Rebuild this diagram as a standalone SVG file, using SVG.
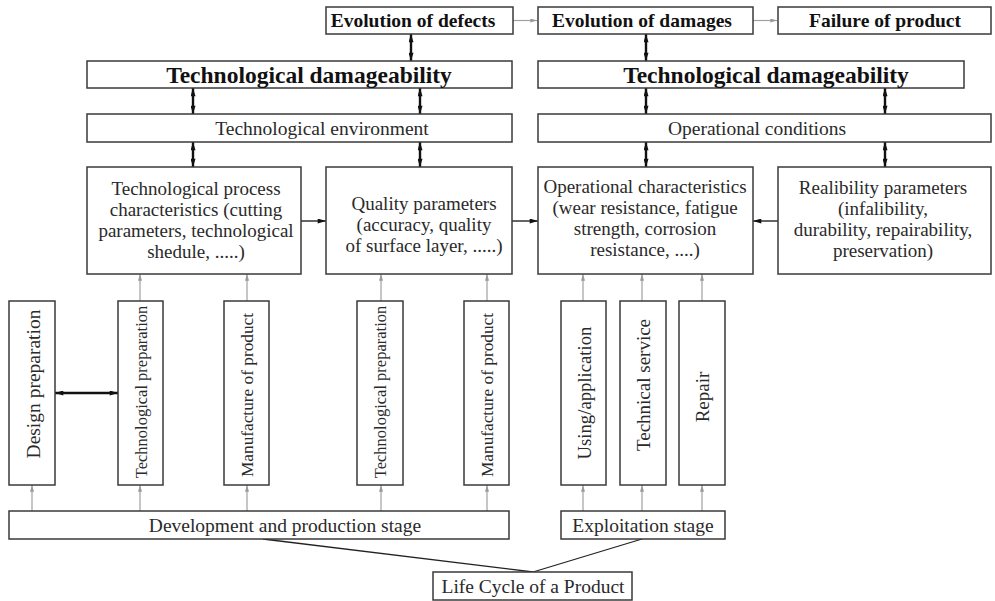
<svg xmlns="http://www.w3.org/2000/svg" width="995" height="601" viewBox="0 0 995 601">
<style>
.box{fill:#fff;stroke:#3a3a3a;stroke-width:1.5}
text{font-family:"Liberation Serif","Times New Roman",serif;fill:#2a2a2a}
.b{font-weight:bold;font-size:19.5px;fill:#111;text-anchor:middle}
.td{font-weight:bold;font-size:23.5px;fill:#111;text-anchor:middle}
.r{font-size:19.5px;text-anchor:middle}
.c{font-size:19px;text-anchor:middle}
.v{text-anchor:middle;dominant-baseline:central}
.dbl{stroke:#111;stroke-width:2.4;fill:none;marker-start:url(#hd);marker-end:url(#hd)}
.one{stroke:#111;stroke-width:1.3;fill:none;marker-end:url(#hs)}
.gr{stroke:#a0a0a0;stroke-width:1.2;fill:none;marker-end:url(#hg)}
.ln{stroke:#222;stroke-width:1.3;fill:none}
</style>
<defs>
<marker id="hd" viewBox="0 0 10 6" refX="10" refY="3" markerWidth="9" markerHeight="5" markerUnits="userSpaceOnUse" orient="auto-start-reverse"><path d="M0,0 L10,3 L0,6 z" fill="#111"/></marker>
<marker id="hs" viewBox="0 0 10 6" refX="10" refY="3" markerWidth="9" markerHeight="5" markerUnits="userSpaceOnUse" orient="auto"><path d="M0,0 L10,3 L0,6 z" fill="#111"/></marker>
<marker id="hg" viewBox="0 0 10 6" refX="10" refY="3" markerWidth="7" markerHeight="4" markerUnits="userSpaceOnUse" orient="auto"><path d="M0,0 L10,3 L0,6 z" fill="#999"/></marker>
</defs>

<g id="connectors">
<line class="gr" x1="513" y1="20.5" x2="537" y2="20.5"/>
<line class="gr" x1="753" y1="20.5" x2="777" y2="20.5"/>
<line class="dbl" x1="411" y1="34" x2="411" y2="61"/>
<line class="dbl" x1="646" y1="34" x2="646" y2="61"/>
<line class="dbl" x1="193" y1="88" x2="193" y2="114"/>
<line class="dbl" x1="420" y1="88" x2="420" y2="114"/>
<line class="dbl" x1="646" y1="88" x2="646" y2="114"/>
<line class="dbl" x1="885" y1="88" x2="885" y2="114"/>
<line class="dbl" x1="193" y1="142" x2="193" y2="167"/>
<line class="dbl" x1="420" y1="142" x2="420" y2="167"/>
<line class="dbl" x1="646" y1="142" x2="646" y2="167"/>
<line class="dbl" x1="885" y1="142" x2="885" y2="167"/>
<line class="one" x1="301" y1="221" x2="326" y2="221"/>
<line class="one" x1="512" y1="221" x2="538" y2="221"/>
<line class="one" x1="778" y1="221" x2="753" y2="221"/>
<line class="dbl" x1="55" y1="393" x2="118" y2="393"/>
<line class="gr" x1="140" y1="301" x2="140" y2="274"/>
<line class="gr" x1="247" y1="301" x2="247" y2="274"/>
<line class="gr" x1="381" y1="301" x2="381" y2="274"/>
<line class="gr" x1="487" y1="301" x2="487" y2="274"/>
<line class="gr" x1="583" y1="301" x2="583" y2="274"/>
<line class="gr" x1="642" y1="301" x2="642" y2="274"/>
<line class="gr" x1="702" y1="301" x2="702" y2="274"/>
<line class="gr" x1="32" y1="511" x2="32" y2="485"/>
<line class="gr" x1="140" y1="511" x2="140" y2="485"/>
<line class="gr" x1="247" y1="511" x2="247" y2="485"/>
<line class="gr" x1="381" y1="511" x2="381" y2="485"/>
<line class="gr" x1="487" y1="511" x2="487" y2="485"/>
<line class="gr" x1="583" y1="511" x2="583" y2="485"/>
<line class="gr" x1="642" y1="511" x2="642" y2="485"/>
<line class="gr" x1="702" y1="511" x2="702" y2="485"/>
<line class="ln" x1="263" y1="539" x2="533" y2="572"/>
<line class="ln" x1="642" y1="539" x2="533" y2="572"/>
</g>

<g id="evo_defects"><rect class="box" x="326" y="7" width="187" height="27"/><text class="b" x="413" y="27">Evolution of defects</text></g>
<g id="evo_damages"><rect class="box" x="538" y="7" width="215" height="27"/><text class="b" x="642" y="27">Evolution of damages</text></g>
<g id="failure"><rect class="box" x="778" y="7" width="213" height="27"/><text class="b" x="885" y="27">Failure of product</text></g>

<g id="td_left"><rect class="box" x="87" y="61" width="425" height="27"/><text class="td" x="309" y="82.5">Technological damageability</text></g>
<g id="td_right"><rect class="box" x="538" y="61" width="426" height="27"/><text class="td" x="766" y="82.5">Technological damageability</text></g>

<g id="tech_env"><rect class="box" x="87" y="114" width="425" height="28"/><text class="r" x="322" y="134.5">Technological environment</text></g>
<g id="op_cond"><rect class="box" x="538" y="114" width="453" height="28"/><text class="r" x="757" y="134.5">Operational conditions</text></g>

<g id="tech_process"><rect class="box" x="87" y="167" width="214" height="107"/>
<text class="c" x="196"><tspan x="196" y="195">Technological process</tspan><tspan x="196" y="216">characteristics (cutting</tspan><tspan x="196" y="237">parameters, technological</tspan><tspan x="196" y="258">shedule, .....)</tspan></text></g>
<g id="quality"><rect class="box" x="326" y="167" width="186" height="107"/>
<text class="c" x="424"><tspan x="424" y="210">Quality parameters</tspan><tspan x="424" y="231">(accuracy, quality</tspan><tspan x="424" y="252">of surface layer, .....)</tspan></text></g>
<g id="op_char"><rect class="box" x="538" y="167" width="215" height="107"/>
<text class="c" x="645"><tspan x="645" y="193">Operational characteristics</tspan><tspan x="645" y="214">(wear resistance, fatigue</tspan><tspan x="645" y="235">strength, corrosion</tspan><tspan x="645" y="256">resistance, ....)</tspan></text></g>
<g id="reliability"><rect class="box" x="778" y="167" width="213" height="107"/>
<text class="c" x="883"><tspan x="883" y="194">Realibility parameters</tspan><tspan x="883" y="215">(infalibility,</tspan><tspan x="883" y="236">durability, repairability,</tspan><tspan x="883" y="257">preservation)</tspan></text></g>

<g id="design_prep"><rect class="box" x="9" y="301" width="46" height="184"/><text class="v" font-size="19.5" transform="translate(33,384) rotate(-90)">Design preparation</text></g>
<g id="tech_prep1"><rect class="box" x="118" y="301" width="45" height="184"/><text class="v" font-size="16.5" transform="translate(141,392) rotate(-90)">Technological preparation</text></g>
<g id="manuf1"><rect class="box" x="224" y="301" width="45" height="184"/><text class="v" font-size="17.3" transform="translate(247,395) rotate(-90)">Manufacture of product</text></g>
<g id="tech_prep2"><rect class="box" x="357" y="301" width="46" height="184"/><text class="v" font-size="16.5" transform="translate(380,392) rotate(-90)">Technological preparation</text></g>
<g id="manuf2"><rect class="box" x="464" y="301" width="45" height="184"/><text class="v" font-size="17.3" transform="translate(487,395) rotate(-90)">Manufacture of product</text></g>
<g id="using"><rect class="box" x="561" y="301" width="45" height="184"/><text class="v" font-size="18.7" transform="translate(584,393) rotate(-90)">Using/application</text></g>
<g id="tech_service"><rect class="box" x="620" y="301" width="46" height="184"/><text class="v" font-size="19" transform="translate(643,385) rotate(-90)">Technical service</text></g>
<g id="repair"><rect class="box" x="679" y="301" width="46" height="184"/><text class="v" font-size="19" transform="translate(702,397) rotate(-90)">Repair</text></g>

<g id="dev_stage"><rect class="box" x="9" y="511" width="500" height="28"/><text class="r" x="285" y="532">Development and production stage</text></g>
<g id="expl_stage"><rect class="box" x="561" y="511" width="164" height="28"/><text class="r" x="643" y="532">Exploitation stage</text></g>
<g id="life_cycle"><rect class="box" x="433" y="572" width="199" height="28"/><text class="r" x="533" y="592.5">Life Cycle of a Product</text></g>
</svg>
